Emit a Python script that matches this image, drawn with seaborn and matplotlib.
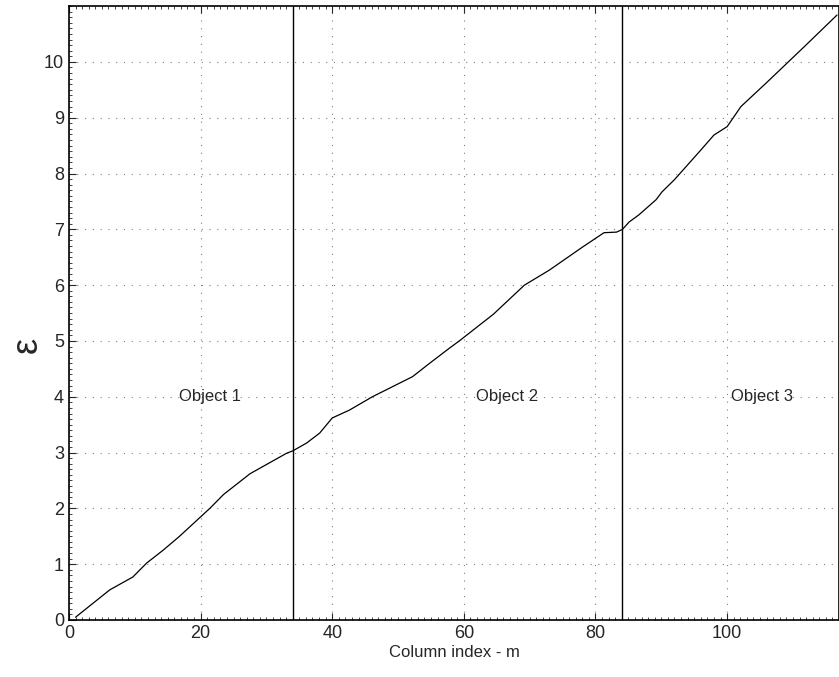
import numpy as np
import pandas as pd
import matplotlib
matplotlib.use('Agg')
import matplotlib.pyplot as plt
import seaborn as sns
from matplotlib.ticker import MultipleLocator

col_index = [1, 6.2, 9.7, 11.8, 14.3, 16.8, 21.4, 23.5, 27.5, 33.1, 34, 36.1, 38.1, 40.0,
             42.6, 46.1, 52.2, 54.8, 57.8, 59.3, 64.5, 69.2, 73, 78, 81.3, 83.2, 84.1, 85.1,
             86.6, 89.2, 90.1, 92, 96, 98, 100, 102.1, 106.1, 111.7, 116.7]
epsilon = [0.05, 0.54, 0.77, 1.02, 1.25, 1.5, 2.0, 2.25, 2.62, 2.99, 3.03, 3.17, 3.35, 3.62,
           3.76, 4.0, 4.36, 4.6, 4.87, 5.0, 5.48, 6.0, 6.27, 6.68, 6.94, 6.95, 7.0, 7.13,
           7.26, 7.53, 7.67, 7.89, 8.42, 8.69, 8.84, 9.2, 9.64, 10.27, 10.84]
boundaries = [34, 84]
object_labels = ['Object 1', 'Object 2', 'Object 3']
label_x = [21.4, 66.5, 105.3]
label_y = 4.0

df = pd.DataFrame({'m': col_index, 'eps': epsilon})

sns.set_style('white')
plt.rcParams['font.family'] = ['Liberation Sans', 'DejaVu Sans']

fig = plt.figure(figsize=(8.39, 6.77), dpi=100)
ax = fig.add_axes([0.0822, 0.0842, 0.9178, 0.9068])

sns.lineplot(data=df, x='m', y='eps', color='black', linewidth=0.9, ax=ax, sort=False)
for b in boundaries:
    ax.axvline(b, color='black', linewidth=1.0)
for lbl, lx in zip(object_labels, label_x):
    ax.text(lx, label_y, lbl, ha='center', va='center', fontsize=12)

ax.set_xlim(0, 117)
ax.set_ylim(0, 11)
ax.set_xticks(range(0, 101, 20))
ax.set_yticks(range(0, 11))
ax.xaxis.set_minor_locator(MultipleLocator(1))
ax.yaxis.set_minor_locator(MultipleLocator(0.1))
ax.tick_params(which='major', direction='in', length=5, labelsize=13, top=True, left=True, bottom=True)
ax.tick_params(which='minor', direction='in', length=2, top=True, left=True, bottom=True)
ax.grid(True, which='major', linestyle=(0, (1, 6)), color='gray', linewidth=0.8)
for s in ax.spines.values():
    s.set_color('black')
    s.set_linewidth(1.2)

ax.set_xlabel('Column index - m', fontsize=12, labelpad=2)
ax.set_ylabel('ε', fontsize=26)
ax.yaxis.set_label_coords(-0.032, 0.448)

fig.savefig('out.png', dpi=100)
